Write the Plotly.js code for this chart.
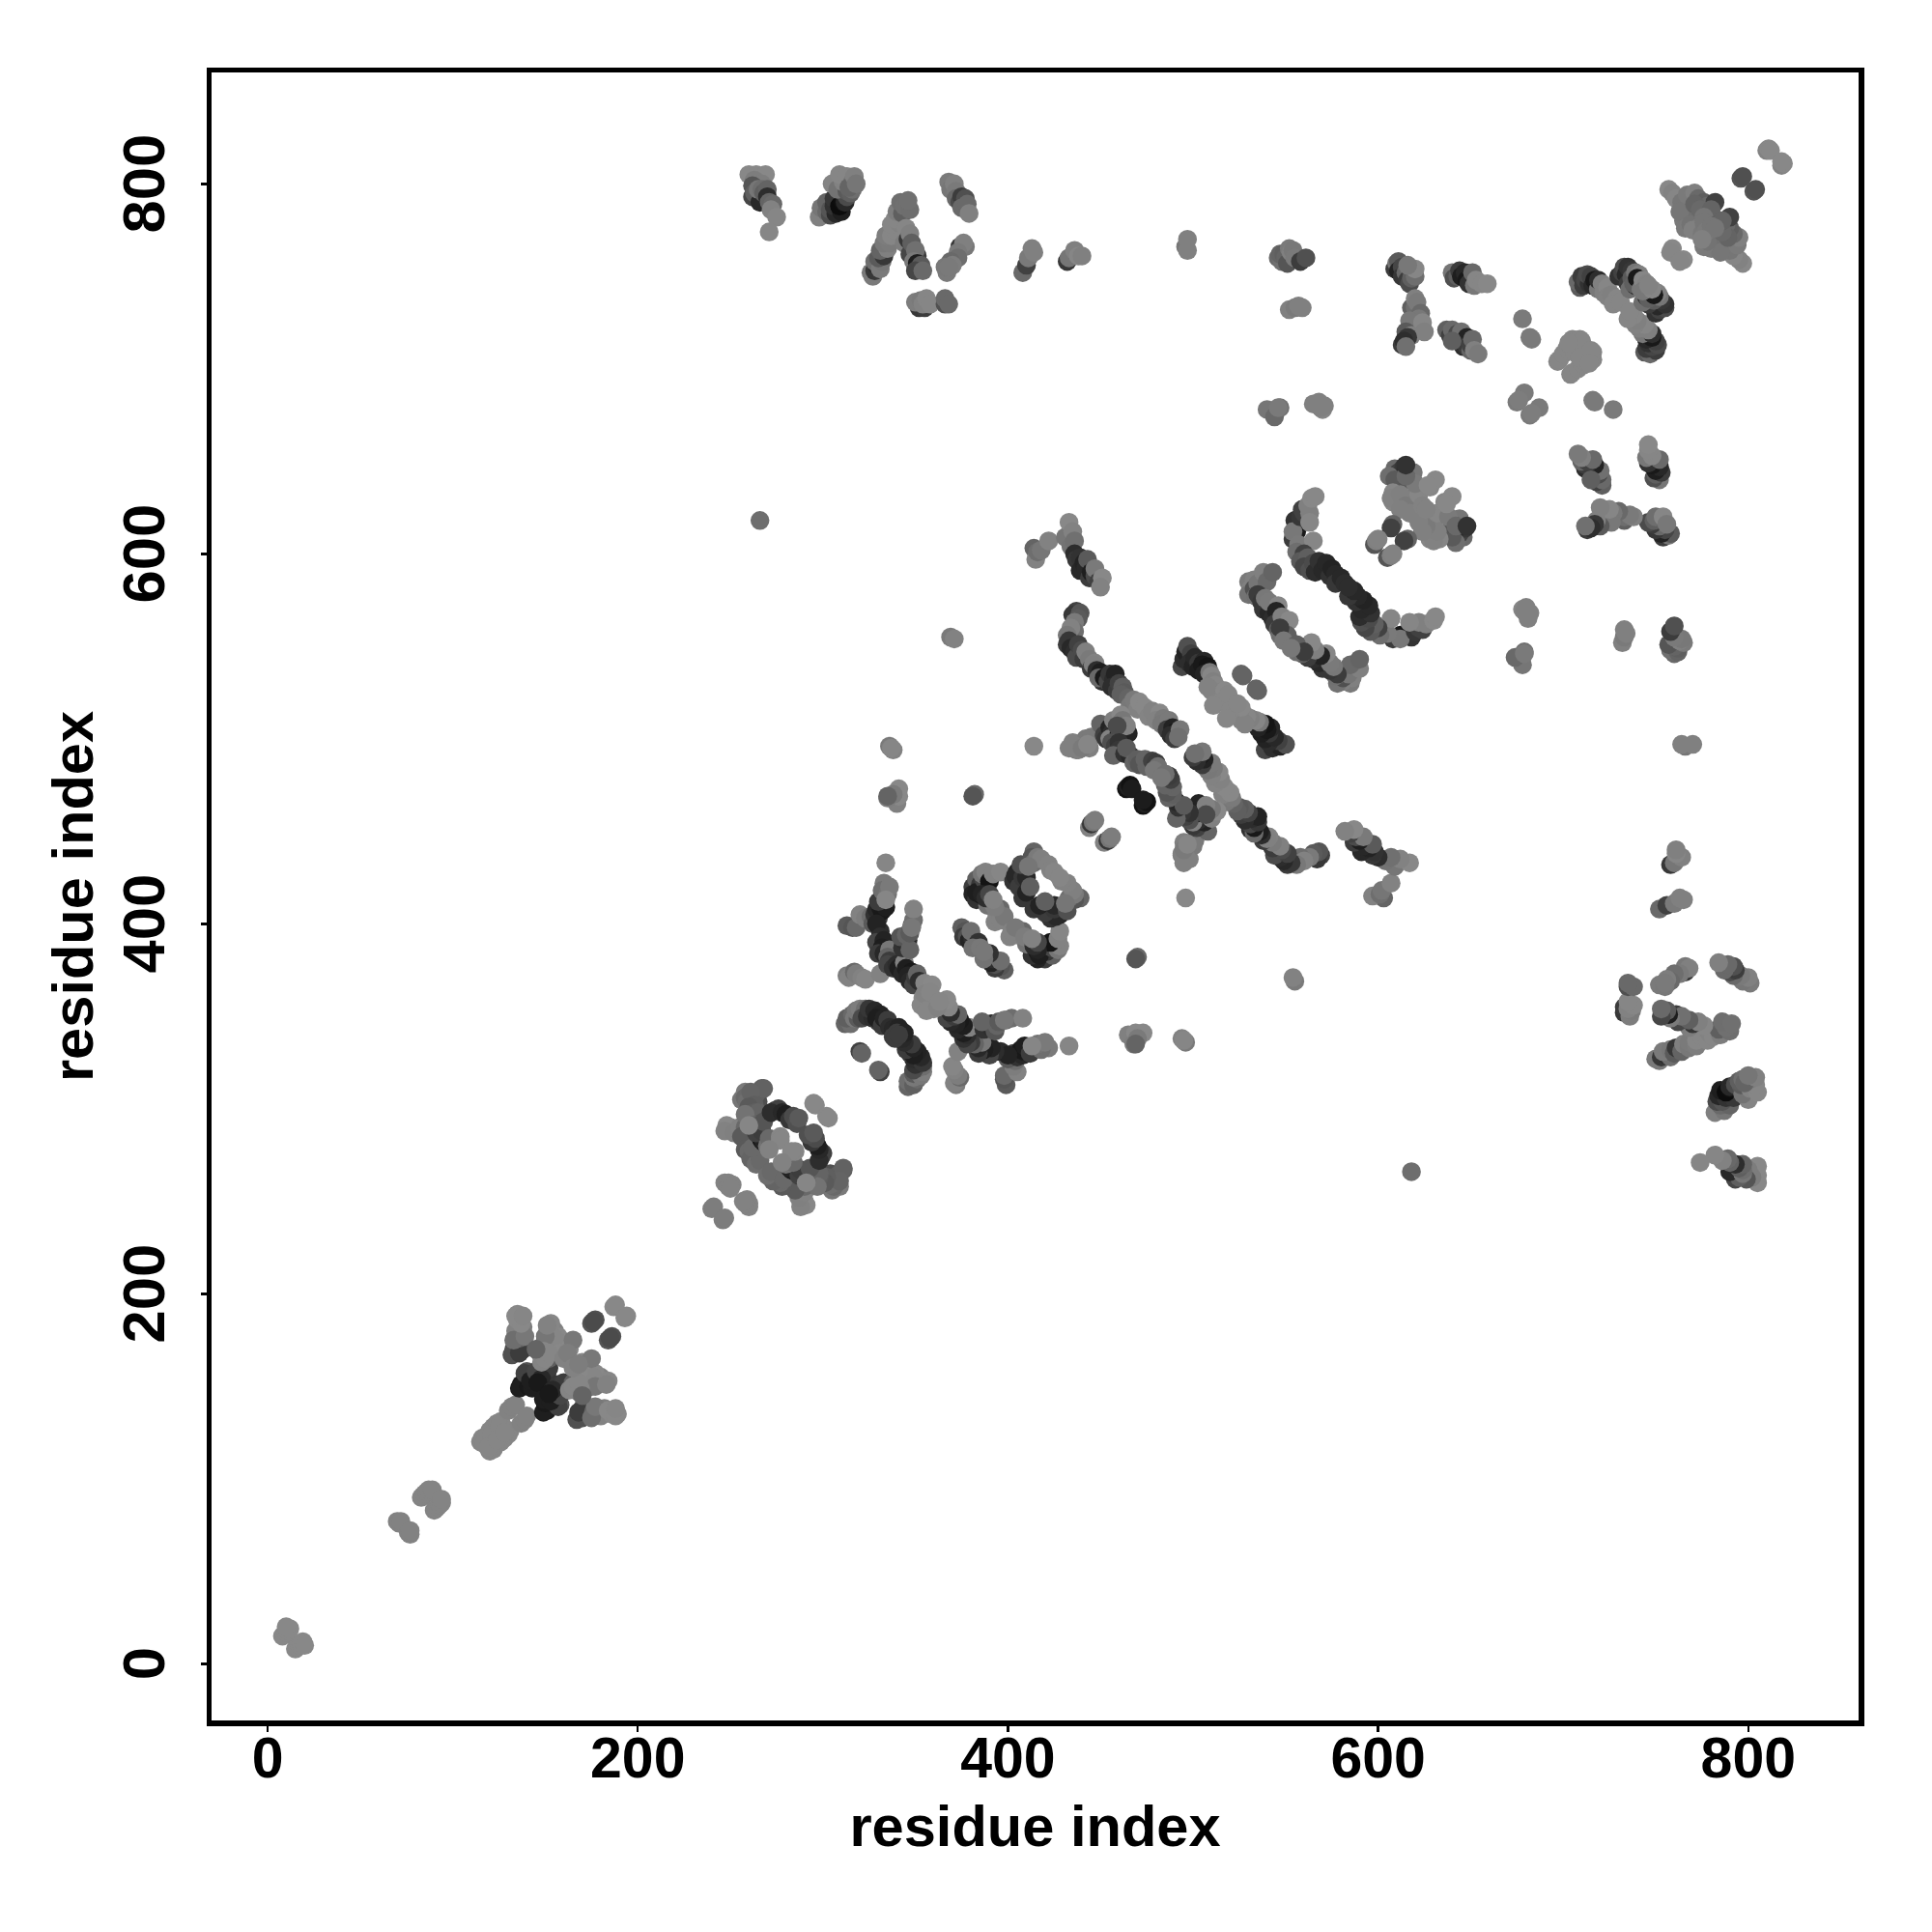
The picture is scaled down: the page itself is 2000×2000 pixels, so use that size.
<!DOCTYPE html>
<html><head><meta charset="utf-8">
<script src="https://cdn.plot.ly/plotly-3.0.1.min.js"></script>
<style>html,body{margin:0;padding:0;background:#fff}</style></head>
<body><div id="chart" style="width:2000px;height:2000px"></div>
<script>
// contacts: [residue i, residue j, shade value]; the map is symmetric in i and j
const nTerm=[[8,15,136],[9,16,136],[10,17,136],[11,18,136],[12,19,136],[10,20,136],[70,77,130],[71,76,130],[72,77,130],[83,90,132],[84,91,132],[85,92,132],[86,93,132],[87,94,132],[89,94,132]];
const tail130=[[115,120,134],[116,122,134],[118,123,134],[120,126,134],[122,128,134],[124,130,134],[126,131,134],[130,137,130],[132,139,130],[134,140,130],[117,119,134],[121,124,134],[125,128,134]];
const arm135=[[133,170,80],[135,172,65],[138,170,75],[132,167,80],[136,168,60],[136,176,100],[134,180,130],[138,182,125],[133,175,110],[139,177,120],[135,186,136],[137,184,136],[135,189,136],[134,188,136],[138,188,134]];
const core150=[[137,151,25],[136,149,30],[141,150,25],[143,149,30],[140,158,85],[139,157,65],[150,158,35],[149,157,30],[151,157,55],[148,159,40],[147,156,35],[142,153,30],[145,158,70],[152,160,60],[148,154,40],[146,152,25],[159,169,85],[155,175,95]];
const band165=[[147,168,115],[149,172,105],[150,175,115],[152,178,120],[153,182,134],[155,180,128],[157,177,136],[155,172,122],[158,173,136],[160,171,136],[163,170,136],[154,167,136],[156,169,136],[153,170,118],[150,170,105],[152,165,95],[155,176,134],[158,168,136],[150,177,118],[149,169,134],[153,184,134],[148,163,132],[150,165,134],[152,168,134],[160,165,130],[165,175,120],[145,170,100],[151,183,130],[162,168,125]];
const pair180=[[175,184,85],[177,186,80],[176,185,75],[187,193,136],[188,194,136]];
const sheet250=[[240,246,125],[241,247,125],[247,260,130],[249,260,130],[251,259,130],[249,258,130],[250,257,130],[248,291,136],[250,290,136],[247,288,130],[252,287,128],[255,290,130],[258,290,105],[258,283,85],[256,285,90],[258,278,90],[260,277,105],[263,272,100],[261,273,100],[264,270,110],[266,272,105],[262,279,105]];
const sheet280=[[256,305,118],[258,309,122],[258,306,105],[262,306,105],[265,304,80],[264,308,95],[267,311,95],[268,311,98],[259,304,110],[261,309,100],[263,302,95],[260,301,90],[263,298,95],[265,298,100],[258,297,115],[262,291,100],[266,285,22],[267,283,22],[268,282,35],[264,287,65],[267,288,60],[268,293,85],[270,280,115],[272,281,122],[271,284,105],[277,285,134],[277,283,134],[271,278,130],[274,299,50],[276,300,65],[272,298,45],[278,298,40],[280,297,30],[282,294,55],[284,296,75],[286,292,80],[287,295,90],[260,291,134],[296,302,136],[295,303,136]];
const band320=[[320,331,65],[321,330,100],[312,346,100],[315,346,110],[313,349,95],[316,351,105],[317,349,120],[319,349,90],[318,353,120],[320,354,125],[322,351,110],[323,354,110],[321,349,75],[324,350,50],[327,349,45],[325,354,55],[328,353,40],[330,347,60],[331,351,35],[329,349,30],[332,345,60],[333,349,35],[335,348,60],[336,344,45],[338,343,40],[338,339,60],[341,344,35],[340,341,60]];
const band335=[[313,372,125],[314,371,130],[317,374,105],[318,373,125],[321,371,130],[323,370,134],[331,373,130],[313,399,90],[316,398,85],[318,398,105],[320,405,130],[323,403,125],[326,404,110],[327,400,90],[330,403,60],[328,405,50],[329,408,40],[331,409,30],[332,407,25],[334,409,30],[330,412,60],[333,422,122],[332,418,110],[335,416,115],[336,420,122],[334,413,134],[334,433,134],[331,396,45],[329,400,35],[331,393,45],[329,390,70],[333,391,35],[332,387,30],[330,384,60],[333,384,40],[336,386,120],[335,382,100],[336,380,60],[335,378,70],[338,376,50],[340,378,45],[341,376,30],[343,373,40],[344,379,130],[345,376,30],[348,374,25],[346,372,35],[347,369,40],[349,367,70],[350,371,60],[351,373,100],[352,369,45],[355,368,134],[359,367,136],[354,360,134],[353,356,134],[355,362,130],[358,363,134]];
const arm345=[[343,387,50],[344,391,45],[346,391,40],[342,393,85],[345,394,100],[347,386,100],[347,395,90],[348,399,105],[349,402,110],[349,408,130],[348,398,120]];
const box385=[[375,398,95],[377,396,85],[376,393,60],[378,393,80],[379,391,35],[381,392,45],[380,396,110],[384,390,50],[383,388,50],[381,387,115],[385,387,120],[381,420,60],[381,416,35],[383,413,50],[385,416,25],[383,424,95],[385,421,55],[387,419,20],[383,417,30],[387,424,70],[386,427,118],[388,428,130],[390,423,20],[392,427,130],[396,428,134],[389,410,115],[392,411,130],[396,408,105],[394,405,128],[393,401,130],[396,402,130],[398,404,120],[393,409,125],[386,416,35],[388,414,45],[390,416,70],[392,413,130]];
const box415=[[403,423,50],[405,428,35],[404,426,40],[406,420,60],[408,414,55],[408,425,55],[410,417,35],[410,425,40],[407,432,80],[412,420,95],[414,439,100],[413,436,85],[414,433,110],[416,436,122],[418,435,128],[411,431,118],[422,432,130],[423,429,130],[425,428,134]];
const isolates=[[266,618,110],[369,555,122],[371,554,130],[336,496,122],[338,494,130],[337,495,134],[382,470,105],[381,469,85],[414,496,136],[340,465,128],[341,469,136],[341,473,136],[335,468,125],[338,470,122],[335,469,100],[444,452,130],[445,454,55],[446,455,118],[447,456,125],[526,535,100],[527,534,100]];
const group600=[[414,603,100],[415,597,130],[416,601,110],[418,602,118],[422,607,130],[431,609,118],[433,617,136],[434,604,115],[435,612,130],[436,607,112],[436,600,45],[437,597,55],[439,598,50],[439,591,40],[441,595,35],[442,592,40],[443,597,90],[444,587,60],[445,590,30],[447,588,75],[447,592,122],[449,585,65],[451,587,136],[450,582,130]];
const band3=[[437,569,65],[435,567,55],[439,568,85],[438,565,90],[436,563,122],[436,558,110],[434,560,130],[432,556,120],[432,551,60],[433,553,55],[434,549,40],[436,547,45],[437,544,75],[438,551,65],[440,548,75],[441,543,60],[442,547,128],[444,543,122],[445,538,60],[447,541,130],[446,540,128],[448,537,45],[450,536,30],[451,531,50],[449,533,105],[452,533,25],[454,531,70],[455,535,55],[457,532,45],[458,535,35],[456,528,45],[459,526,60],[460,530,65],[462,528,95],[463,525,90],[461,524,95],[465,522,100],[466,518,120],[468,521,122],[470,516,130],[471,520,136],[474,517,136],[476,512,132],[478,515,130],[482,514,136],[480,510,130],[484,511,122],[483,508,120],[487,510,122],[486,505,60],[489,506,35],[491,504,25],[488,502,45],[490,500,60],[493,505,120],[492,501,112]];
const band4=[[494,539,70],[495,543,45],[496,547,35],[497,550,80],[499,546,65],[498,541,45],[500,539,35],[501,544,40],[503,541,55],[503,537,30],[506,542,40],[505,540,25],[508,539,20],[506,535,35],[509,536,120],[510,534,134],[511,531,128],[512,529,134],[510,526,130],[514,525,130],[513,522,132],[508,528,130],[516,522,130],[517,526,136],[515,520,134],[511,518,134],[519,524,134]];
const mid500=[[435,498,128],[437,494,118],[440,497,128],[442,500,122],[445,501,122],[444,495,128],[450,508,100],[452,502,65],[453,500,55],[455,506,35],[456,503,45],[455,500,130],[457,510,128],[461,513,136],[462,510,120],[460,503,18],[462,504,22],[465,503,35],[464,507,130],[459,507,75],[456,498,80],[458,496,65],[460,498,50],[460,494,55],[457,491,100],[463,492,50],[466,491,40],[464,495,90],[468,487,100],[470,489,95],[471,486,85],[474,489,100],[475,485,100],[478,488,65],[480,487,60],[481,485,112],[479,483,120],[464,473,18],[465,474,32],[466,475,18],[467,473,28],[433,495,128],[435,497,128],[438,494,128],[440,495,122],[443,497,134]];
const band5=[[530,585,122],[533,586,128],[531,581,128],[530,578,115],[533,581,80],[535,584,118],[538,590,128],[540,585,105],[543,590,100],[534,577,112],[535,578,60],[537,574,55],[538,570,55],[541,568,40],[539,576,120],[541,574,122],[543,565,45],[546,572,134],[545,569,35],[544,562,60],[548,566,128],[546,559,95],[550,562,128],[552,564,136],[547,556,110],[551,556,95],[547,560,60],[549,553,120]];
const band6=[[557,616,45],[556,612,25],[555,618,50],[554,608,60],[554,612,120],[558,620,55],[559,624,65],[560,622,65],[563,622,128],[562,626,128],[564,630,136],[566,631,136],[563,617,134],[557,605,122],[565,607,134],[556,601,110],[560,600,65],[558,596,90],[562,598,95],[560,593,70],[563,591,80],[565,595,75],[566,590,45],[568,596,50],[570,591,40],[572,595,40],[574,588,50],[575,592,35],[577,589,40],[577,584,55],[580,587,40],[582,584,45]];
const group620=[[609,646,105],[611,644,65],[614,647,55],[613,642,45],[606,642,110],[609,640,90],[619,644,118],[616,640,85],[608,633,134],[608,628,134],[607,630,130],[612,632,128],[618,630,128],[615,626,122],[617,622,128],[612,624,128],[608,616,100],[607,614,65],[598,605,85],[599,607,128],[600,608,130],[622,632,134],[628,636,134],[620,638,122],[624,626,130],[631,640,136],[627,637,136],[615,642,105],[615,648,50]];
const far760=[[546,760,105],[548,758,112],[547,762,100],[549,762,95],[550,760,100],[551,757,85],[552,765,122],[553,763,128],[554,764,120],[555,760,122],[558,758,60],[561,760,80],[552,732,128],[555,733,122],[557,734,128],[559,733,128],[540,678,118],[544,674,105],[547,679,112],[565,681,128],[568,682,128],[570,678,134],[571,680,128],[546,679,122],[569,679,128]];
const far750=[[609,754,60],[610,757,118],[611,758,90],[611,753,35],[613,755,70],[613,750,55],[615,752,105],[616,748,60],[617,746,75],[618,749,95],[620,750,110],[620,754,134],[640,752,118],[641,749,80],[643,750,95],[644,753,60],[645,750,30],[647,752,40],[648,748,25],[649,746,50],[652,745,120],[651,752,105],[653,748,134],[656,746,134],[659,746,136]];
const far720=[[618,733,95],[620,733,110],[620,738,128],[621,736,122],[623,730,105],[622,727,120],[617,726,120],[624,725,134],[625,720,128],[615,720,90],[618,718,128],[616,717,55],[613,713,60],[614,715,45],[615,712,112],[637,721,95],[639,718,65],[640,721,105],[642,716,45],[643,719,75],[645,715,40],[645,720,112],[648,717,35],[646,712,45],[648,712,60],[640,715,95],[650,710,100],[650,713,65],[651,716,105],[652,710,128],[654,708,122],[616,756,120]];
const far680=[[678,727,122],[683,716,122],[682,717,122],[675,682,122],[679,687,122],[676,683,125],[697,704,134],[698,705,134],[700,708,134],[702,711,134],[703,710,134],[704,712,134],[706,709,134],[705,716,134],[709,716,134],[710,715,134],[703,714,134]];
const strand740=[[709,744,90],[708,747,105],[711,745,60],[710,750,60],[712,748,70],[714,746,50],[713,751,75],[715,750,65],[716,745,40],[717,748,25],[719,743,120],[719,748,45],[722,741,128],[721,746,128],[724,744,134],[724,739,130],[726,740,128],[729,738,134],[727,735,134],[731,736,134],[730,750,50],[732,752,65],[733,755,75],[734,751,40],[735,755,50],[737,753,55],[735,746,60],[737,749,90],[739,752,118],[741,751,128],[736,743,110],[739,745,50],[738,746,95],[740,749,25],[742,743,120],[743,748,134],[745,746,130]];
const cTerm=[[757,797,136],[759,795,130],[761,792,134],[764,790,118],[767,794,122],[771,795,128],[773,792,105],[776,790,95],[778,788,105],[782,790,65],[768,781,112],[765,780,122],[770,785,112],[772,780,112],[775,783,118],[763,785,118],[766,776,122],[769,778,115],[773,775,120],[771,789,100],[774,786,105],[778,783,95],[780,786,100],[779,776,118],[774,777,122],[777,780,118],[776,782,118],[770,775,128],[759,765,136],[758,763,134],[796,803,85],[797,804,80],[810,818,130],[811,819,136],[812,818,136]];
const top265=[[260,805,136],[264,805,136],[269,805,136],[263,802,125],[267,800,125],[262,799,85],[262,793,70],[265,793,60],[263,795,95],[266,790,40],[265,797,118],[267,797,110],[268,795,95],[270,797,100],[270,793,45],[271,790,100],[273,789,105],[272,786,130],[275,782,134],[271,774,134]];
const top305=[[300,784,128],[298,782,128],[299,787,118],[302,785,105],[302,790,100],[304,783,75],[304,786,85],[307,784,40],[306,788,50],[306,792,55],[310,785,30],[309,788,12],[311,790,16],[312,790,40],[313,793,75],[305,800,132],[308,797,115],[313,796,90],[315,795,95],[316,797,110],[311,801,130],[309,805,134],[313,804,134],[316,801,122],[314,798,100],[317,804,128],[318,800,118]];
const top335=[[326,752,120],[327,750,122],[328,753,55],[329,756,45],[328,758,110],[331,754,122],[332,758,118],[330,760,90],[333,761,55],[331,764,100],[335,765,128],[333,768,120],[336,768,122],[334,772,125],[337,772,134],[339,775,134],[337,778,134],[341,779,130],[339,781,134],[340,785,125],[343,784,95],[342,790,110],[344,788,112],[347,786,110],[346,791,112],[345,776,134],[344,768,125],[346,770,55],[347,773,128],[347,762,70],[348,768,95],[351,761,60],[350,764,112],[349,758,122],[351,757,30],[353,756,90],[350,753,70],[354,753,105],[352,733,55],[355,733,60],[350,736,125],[353,737,122],[354,735,130],[356,738,134],[358,735,134],[366,735,80],[366,738,105],[368,735,105]];
const top375=[[368,801,122],[369,797,118],[371,800,128],[372,796,122],[372,792,105],[374,790,75],[375,793,60],[377,792,80],[375,787,105],[378,789,105],[379,784,128],[374,766,55],[377,766,120],[376,768,128],[373,763,122],[373,760,110],[369,758,105],[370,756,125],[367,752,122],[366,755,120],[368,755,122]];
const top410=[[408,752,105],[410,756,65],[411,760,122],[413,765,128],[414,763,128],[432,758,55],[433,760,118],[436,764,128],[438,761,134],[440,761,128],[496,766,118],[497,764,128],[497,770,128]];

const contactGroups=[nTerm,tail130,arm135,core150,band165,pair180,sheet250,sheet280,band320,band335,arm345,box385,box415,isolates,group600,band3,band4,mid500,band5,band6,group620,far760,far750,far720,far680,strand740,cTerm,top265,top305,top335,top375,top410];
const xTicks=[0,200,400,600,800];
const yTicks=[0,200,400,600,800];
const axisTitle='residue index';

const x=[],y=[],shade=[];
contactGroups.forEach(g=>g.forEach(p=>{x.push(p[0]);y.push(p[1]);shade.push(p[2]);}));
contactGroups.forEach(g=>g.forEach(p=>{x.push(p[1]);y.push(p[0]);shade.push(p[2]);}));

const font={family:'"Liberation Sans",Arial,sans-serif',size:59,color:'#000',weight:700};
const titleFont=Object.assign({},font,{size:59.6});
const axisBase={showgrid:false,zeroline:false,showline:true,mirror:true,linecolor:'#000',linewidth:5.5,
  ticks:'outside',ticklen:6,tickwidth:2.5,tickcolor:'#000',tickmode:'array'};
Plotly.newPlot('chart',[{type:'scatter',mode:'markers',x:x,y:y,
  marker:{size:19.5,color:shade,cmin:0,cmax:136,colorscale:[[0,'rgb(0,0,0)'],[1,'rgb(136,136,136)']],showscale:false,line:{width:0},opacity:1},hoverinfo:'skip'}],
 {width:2000,height:2000,paper_bgcolor:'#fff',plot_bgcolor:'#fff',showlegend:false,
  margin:{l:219,r:76,t:74.5,b:218.7,pad:0},
  xaxis:Object.assign({},axisBase,{range:[-30.3,859.6],tickvals:xTicks,ticktext:xTicks.map(String),tickangle:0,tickfont:font,ticklabelstandoff:-23,
     title:{text:axisTitle,font:titleFont,standoff:19}}),
  yaxis:Object.assign({},axisBase,{range:[-30.6,860.2],tickvals:yTicks,ticktext:yTicks.map(String),tickangle:-90,tickfont:Object.assign({},font,{size:61.5}),ticklabelstandoff:13,ticklabelshift:9,
     title:{text:axisTitle,font:titleFont,standoff:0}})
 },{staticPlot:true,displayModeBar:false});
</script></body></html>
